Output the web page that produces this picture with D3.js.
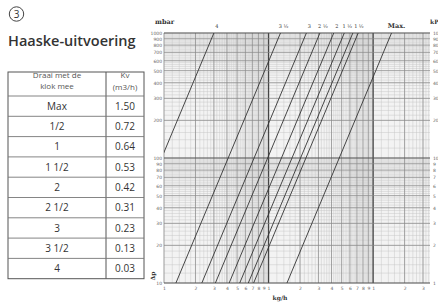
<!DOCTYPE html>
<html>
<head>
<meta charset="utf-8">
<script src="https://cdn.jsdelivr.net/npm/d3@7"></script>
<style>
  body { margin: 0; background: #fff; }
  svg { display: block; }
</style>
</head>
<body>
<div id="chart"></div>
<script>
// table / series data
var settings = ["Max", "1/2", "1", "1 1/2", "2", "2 1/2", "3", "3 1/2", "4"];
var kvValues = [1.50, 0.72, 0.64, 0.53, 0.42, 0.31, 0.23, 0.13, 0.03];
var lineLabels = ["Max.", "½", "1", "1 ½", "2", "2 ½", "3", "3 ½", "4"];
var pressureTicks = [10, 20, 30, 40, 50, 60, 70, 80, 90, 100, 200, 300, 400, 500, 600, 700, 800, 900, 1000];
var flowTicks = [10, 20, 30, 40, 50, 60, 70, 80, 90, 100, 200, 300, 400, 500, 600, 700, 800, 900, 1000, 2000, 3000];

var width = 438, height = 304;

var svg = d3.select("#chart").append("svg")
  .attr("width", width)
  .attr("height", height)
  .style("font-family", "'Open Sans', sans-serif");

// ---- title ----
svg.append("circle")
  .attr("cx", 16.5).attr("cy", 14).attr("r", 7.2)
  .attr("fill", "none").attr("stroke", "#444").attr("stroke-width", 1);
svg.append("text")
  .attr("x", 16.5).attr("y", 17.6)
  .attr("text-anchor", "middle")
  .style("font-size", "10px").style("fill", "#333")
  .text("3");
svg.append("text")
  .attr("x", 8).attr("y", 46)
  .style("font-size", "14.5px").style("font-weight", 600).style("fill", "#333")
  .text("Haaske-uitvoering");

// ---- table ----
var tx0 = 8, tx1 = 106, tx2 = 144;
var headTop = 72, headBottom = 96, rowH = 20.3;
var table = svg.append("g");
var tableBottom = headBottom + rowH * settings.length;

table.append("rect")
  .attr("x", tx0).attr("y", headTop)
  .attr("width", tx2 - tx0).attr("height", tableBottom - headTop)
  .attr("fill", "none").attr("stroke", "#555").attr("stroke-width", 1);
table.append("line")
  .attr("x1", tx1).attr("x2", tx1).attr("y1", headTop).attr("y2", tableBottom)
  .attr("stroke", "#555").attr("stroke-width", 1);

settings.forEach(function(s, i) {
  var rowTop = headBottom + i * rowH;
  table.append("line")
    .attr("x1", tx0).attr("x2", tx2).attr("y1", rowTop).attr("y2", rowTop)
    .attr("stroke", "#777").attr("stroke-width", 0.9);
  table.append("text")
    .attr("x", (tx0 + tx1) / 2).attr("y", rowTop + rowH / 2 + 3.6)
    .attr("text-anchor", "middle")
    .style("font-size", "10px").style("fill", "#333")
    .text(s);
  table.append("text")
    .attr("x", (tx1 + tx2) / 2).attr("y", rowTop + rowH / 2 + 3.6)
    .attr("text-anchor", "middle")
    .style("font-size", "10px").style("fill", "#333")
    .text(kvValues[i].toFixed(2));
});

var headStyle = function(t) {
  t.attr("text-anchor", "middle").style("font-size", "8px").style("fill", "#555");
};
table.append("text").attr("x", (tx0 + tx1) / 2).attr("y", 78).call(headStyle).text("Draai met de");
table.append("text").attr("x", (tx0 + tx1) / 2).attr("y", 88.5).call(headStyle).text("klok mee");
table.append("text").attr("x", (tx1 + tx2) / 2).attr("y", 78).call(headStyle).text("Kv");
table.append("text").attr("x", (tx1 + tx2) / 2).attr("y", 90).call(headStyle).text("(m3/h)");

// ---- chart ----
var pl = 164, pr = 430, pt = 33, pb = 283;

var x = d3.scaleLog().domain([10, 3500]).range([pl, pr]);
var y = d3.scaleLog().domain([10, 1000]).range([pb, pt]);

svg.append("defs").append("clipPath").attr("id", "plotclip")
  .append("rect").attr("x", pl).attr("y", pt)
  .attr("width", pr - pl).attr("height", pb - pt);

var plot = svg.append("g");
plot.append("rect")
  .attr("x", pl).attr("y", pt)
  .attr("width", pr - pl).attr("height", pb - pt)
  .attr("fill", "#f3f3f3");

// fine log-paper grid (linear steps inside each decade)
function fineTicks(domain) {
  var out = [];
  for (var e = 1; e <= 3; e++) {
    var dec = Math.pow(10, e);
    for (var k = 10; k < 100; k += 2) {
      var v = k * dec / 10;
      if (v >= domain[0] && v <= domain[1]) out.push(v);
    }
  }
  return out;
}
var grid = plot.append("g");
grid.selectAll(".vf").data(fineTicks(x.domain())).enter().append("line")
  .attr("x1", x).attr("x2", x).attr("y1", pt).attr("y2", pb)
  .attr("stroke", "#c4c4c4").attr("stroke-width", 0.45);
grid.selectAll(".hf").data(fineTicks(y.domain())).enter().append("line")
  .attr("y1", y).attr("y2", y).attr("x1", pl).attr("x2", pr)
  .attr("stroke", "#c4c4c4").attr("stroke-width", 0.45);

grid.selectAll(".vm").data(flowTicks).enter().append("line")
  .attr("x1", x).attr("x2", x).attr("y1", pt).attr("y2", pb)
  .attr("stroke-width", function(d) { return [100, 1000].indexOf(d) >= 0 ? 1.3 : 0.7; })
  .attr("stroke", function(d) { return [100, 1000].indexOf(d) >= 0 ? "#444" : "#8a8a8a"; });
grid.selectAll(".hm").data(pressureTicks).enter().append("line")
  .attr("y1", y).attr("y2", y).attr("x1", pl).attr("x2", pr)
  .attr("stroke-width", function(d) { return [10, 100, 1000].indexOf(d) >= 0 ? 1.2 : 0.7; })
  .attr("stroke", function(d) { return [10, 100, 1000].indexOf(d) >= 0 ? "#555" : "#8a8a8a"; });

// Kv curves: flow (kg/h) = Kv * 1000 * sqrt(dp / 1000 mbar)
var flow = function(kv, dp) { return kv * 1000 * Math.sqrt(dp / 1000); };
var kvLine = d3.line()
  .x(function(d) { return x(d.q); })
  .y(function(d) { return y(d.dp); });

var curves = plot.append("g").attr("clip-path", "url(#plotclip)");
kvValues.forEach(function(kv) {
  var pts = y.domain().map(function(dp) { return { dp: dp, q: flow(kv, dp) }; });
  curves.append("path")
    .attr("d", kvLine(pts))
    .attr("fill", "none")
    .attr("stroke", "#333")
    .attr("stroke-width", 0.9);
});

// labels above each curve
kvValues.forEach(function(kv, i) {
  svg.append("text")
    .attr("x", x(flow(kv, 1000)) + (i === 0 ? 5 : 3))
    .attr("y", 28)
    .attr("text-anchor", "middle")
    .style("font-family", "'DejaVu Serif', serif")
    .style("font-size", i === 0 ? "6.5px" : "5px")
    .style("font-weight", i === 0 ? "bold" : "normal")
    .style("fill", "#333")
    .text(lineLabels[i]);
});

// axes
var axisText = function(g) {
  g.select(".domain").remove();
  g.selectAll("text").style("font-size", "4.5px").style("fill", "#666").style("font-family", "'DejaVu Sans', sans-serif");
};
svg.append("g")
  .attr("transform", "translate(" + pl + ",0)")
  .call(d3.axisLeft(y).tickValues(pressureTicks).tickFormat(d3.format("d")).tickSize(0).tickPadding(2))
  .call(axisText);
svg.append("g")
  .attr("transform", "translate(" + pr + ",0)")
  .call(d3.axisRight(y).tickValues(pressureTicks).tickFormat(function(d) { return d / 10; }).tickSize(0).tickPadding(3))
  .call(axisText);
svg.append("g")
  .attr("transform", "translate(0," + pb + ")")
  .call(d3.axisBottom(x).tickValues(flowTicks)
    .tickFormat(function(d) { return String(Math.round(d / Math.pow(10, Math.floor(Math.log10(d) + 1e-9)))); })
    .tickSize(0).tickPadding(4))
  .call(axisText);

// axis titles
svg.append("text").attr("x", 155).attr("y", 24)
  .style("font-family", "'DejaVu Serif', serif").style("font-size", "6.5px").style("font-weight", "bold").style("fill", "#333")
  .text("mbar");
svg.append("text").attr("x", 430).attr("y", 24)
  .style("font-family", "'DejaVu Serif', serif").style("font-size", "6px").style("font-weight", "bold").style("fill", "#333")
  .text("kPa");
svg.append("text").attr("x", 280).attr("y", 300).attr("text-anchor", "middle")
  .style("font-family", "'DejaVu Serif', serif").style("font-size", "6px").style("font-weight", "bold").style("fill", "#333")
  .text("kg/h");
svg.append("text")
  .attr("transform", "translate(155,276) rotate(-90)")
  .attr("text-anchor", "middle")
  .style("font-family", "'DejaVu Serif', serif").style("font-size", "6px").style("font-weight", "bold").style("fill", "#333")
  .text("Δp");
</script>
</body>
</html>
